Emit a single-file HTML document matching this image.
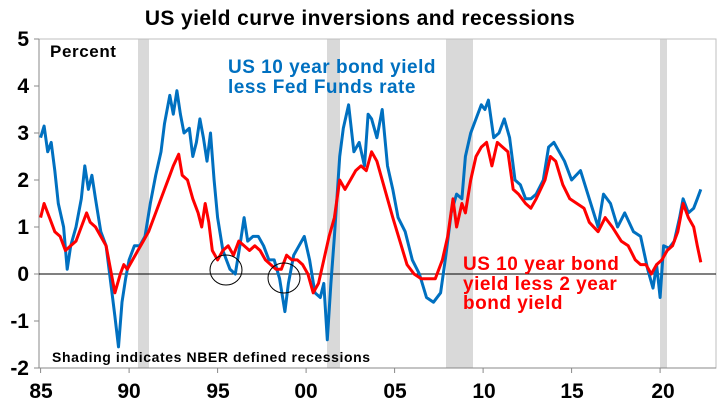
<!DOCTYPE html>
<html><head><meta charset="utf-8"><style>
body{margin:0;background:#fff;}
svg{display:block;font-family:"Liberation Sans",Arial,sans-serif;font-weight:bold;}
</style></head><body>
<svg id="s" width="720" height="404" viewBox="0 0 720 404">
<rect x="0" y="0" width="720" height="404" fill="#fff"/>
<g fill="#d9d9d9">
<rect x="138" y="39" width="11" height="329"/>
<rect x="327" y="39" width="13" height="329"/>
<rect x="446" y="39" width="27" height="329"/>
<rect x="660" y="39" width="7" height="329"/>
</g>
<rect x="39" y="39" width="677" height="329" fill="none" stroke="#bfbfbf" stroke-width="1"/>
<line x1="39" y1="39" x2="39" y2="368" stroke="#888"/>
<line x1="39" y1="274" x2="716" y2="274" stroke="#000" stroke-width="1"/>
<line x1="39" y1="368" x2="716" y2="368" stroke="#888"/>
<g stroke="#888" id="ticks"></g>
<g font-size="21" text-anchor="end" fill="#000">
<text x="29" y="46">5</text><text x="29" y="93">4</text><text x="29" y="140">3</text>
<text x="29" y="187">2</text><text x="29" y="234">1</text><text x="29" y="281">0</text>
<text x="29" y="328">-1</text><text x="29" y="375">-2</text>
</g>
<g font-size="21" text-anchor="middle" fill="#000">
<text x="41" y="398">85</text><text x="129" y="398">90</text><text x="218" y="398">95</text>
<text x="306" y="398">00</text><text x="395" y="398">05</text><text x="484" y="398">10</text>
<text x="572" y="398">15</text><text x="663" y="398">20</text>
</g>
<text x="360" y="25" font-size="21" text-anchor="middle" letter-spacing="0.4">US yield curve inversions and recessions</text>
<text x="50" y="57" font-size="17" letter-spacing="0.6">Percent</text>
<text x="52" y="362" font-size="14" letter-spacing="0.6">Shading indicates NBER defined recessions</text>
<text x="228" y="73" font-size="19" letter-spacing="0.5" fill="#0070c0">US 10 year bond yield</text>
<text x="228" y="93" font-size="19" letter-spacing="0.5" fill="#0070c0">less Fed Funds rate</text>
<text x="463" y="270" font-size="19" letter-spacing="0.5" fill="#ff0000">US 10 year bond</text>
<text x="463" y="290" font-size="19" letter-spacing="0.5" fill="#ff0000">yield less 2 year</text>
<text x="463" y="309" font-size="19" letter-spacing="0.5" fill="#ff0000">bond yield</text>
<polyline id="blue" fill="none" stroke="#0070c0" stroke-width="3" stroke-linejoin="round"/>
<polyline id="red" fill="none" stroke="#ff0000" stroke-width="3" stroke-linejoin="round"/>
<ellipse cx="226" cy="270" rx="16" ry="15" fill="none" stroke="#000" stroke-width="1"/>
<ellipse cx="284" cy="278" rx="16" ry="15" fill="none" stroke="#000" stroke-width="1"/>
</svg>
<script>
var B=[1985,2.9,85.2,3.15,85.4,2.6,85.6,2.8,85.8,2.2,86,1.5,86.3,1,86.5,0.1,86.7,0.6,87,1,87.3,1.6,87.5,2.3,87.7,1.8,87.9,2.1,88.1,1.6,88.4,0.9,88.7,0.6,89,-0.3,89.2,-0.9,89.4,-1.55,89.6,-0.6,89.8,-0.1,90,0.3,90.3,0.6,90.6,0.6,90.9,0.8,91.2,1.5,91.5,2.1,91.8,2.6,92,3.2,92.3,3.8,92.5,3.4,92.7,3.9,92.9,3.4,93.1,3,93.4,3.1,93.6,2.5,93.8,2.8,94,3.3,94.2,2.9,94.4,2.4,94.6,3,94.8,2,95,1.2,95.3,0.5,95.5,0.3,95.7,0.1,96,0,96.3,0.7,96.5,1.2,96.7,0.7,97,0.8,97.3,0.8,97.6,0.6,97.9,0.3,98.2,0.3,98.5,-0.1,98.8,-0.8,99,-0.2,99.3,0.4,99.6,0.6,99.9,0.8,100.2,0.3,100.5,-0.4,100.8,-0.5,101,-0.2,101.2,-1.4,101.4,-0.2,101.6,0.8,101.9,2.5,102.1,3.1,102.4,3.6,102.7,2.6,103,2.8,103.3,2.3,103.5,3.4,103.7,3.3,104,2.9,104.3,3.5,104.6,2.3,104.9,1.8,105.2,1.2,105.6,0.9,106,0.3,106.4,0,106.8,-0.5,107.2,-0.6,107.6,-0.4,107.9,0.4,108.2,1.3,108.5,1.7,108.8,1.6,109,2.5,109.3,3,109.6,3.3,109.9,3.6,110.1,3.5,110.3,3.7,110.6,2.9,110.9,3,111.2,3.3,111.5,2.9,111.8,2,112.1,1.9,112.4,1.6,112.7,1.6,113,1.7,113.4,2,113.7,2.7,114,2.8,114.3,2.6,114.6,2.4,115,2,115.5,2.2,116,1.6,116.5,1,116.8,1.7,117.2,1.5,117.6,1,118,1.3,118.5,0.9,118.9,0.8,119.3,0.1,119.6,-0.3,119.8,0.2,120,-0.5,120.2,0.6,120.5,0.55,120.8,0.7,121.1,1.2,121.3,1.6,121.6,1.3,121.9,1.4,122.1,1.6,122.3,1.8];
var R=[1985,1.2,85.2,1.5,85.5,1.2,85.8,0.9,86.1,0.8,86.4,0.5,86.7,0.6,87,0.7,87.3,1,87.6,1.3,87.8,1.1,88.1,1,88.4,0.8,88.7,0.6,89,0,89.2,-0.4,89.5,0,89.7,0.2,89.9,0.1,90.2,0.3,90.5,0.5,90.8,0.7,91.1,0.9,91.4,1.2,91.7,1.5,92,1.8,92.3,2.1,92.5,2.3,92.8,2.55,93,2.1,93.3,2,93.6,1.6,93.9,1.3,94.1,1,94.3,1.5,94.5,1.1,94.7,0.5,95,0.3,95.3,0.5,95.6,0.6,95.9,0.4,96.2,0.7,96.5,0.6,96.8,0.5,97.1,0.6,97.4,0.5,97.7,0.3,98,0.2,98.3,0.1,98.6,0.1,98.9,0.4,99.2,0.3,99.5,0.3,99.8,0.2,100.1,0,100.4,-0.4,100.7,-0.2,101,0.3,101.3,0.8,101.6,1.2,101.9,2,102.2,1.8,102.5,2,102.8,2.2,103.1,2.3,103.4,2.2,103.7,2.6,104,2.4,104.3,2,104.6,1.6,104.9,1.2,105.3,0.7,105.7,0.2,106.1,0,106.5,-0.1,106.9,-0.1,107.3,-0.1,107.7,0.3,108,0.8,108.3,1.6,108.5,1,108.8,1.5,109,1.3,109.3,2,109.6,2.5,109.9,2.7,110.2,2.8,110.5,2.3,110.8,2.8,111.1,2.7,111.4,2.6,111.7,1.8,112,1.7,112.4,1.5,112.7,1.4,113,1.6,113.5,2,113.8,2.5,114.1,2.4,114.5,1.9,114.9,1.6,115.3,1.5,115.7,1.4,116,1.1,116.5,0.9,116.9,1.2,117.3,1,117.8,0.7,118.2,0.6,118.6,0.3,118.9,0.2,119.2,0.2,119.5,0,119.8,0.2,120.1,0.3,120.4,0.5,120.7,0.6,121,0.9,121.3,1.5,121.6,1.2,121.9,1,122.1,0.6,122.3,0.25];
function pts(a){var s=[];for(var i=0;i<a.length;i+=2){var y=a[i];if(y<1900)y+=1900;if(y<1985)y+=100;var x=40.6+(y-1985)*17.7;s.push(x.toFixed(1)+","+(274-a[i+1]*47).toFixed(1));}return s.join(" ");}
document.getElementById("blue").setAttribute("points",pts(B));
document.getElementById("red").setAttribute("points",pts(R));
var t="";for(var k=0;k<8;k++){var x=40.6+k*88.5;t+='<line x1="'+x+'" y1="368" x2="'+x+'" y2="373"/>';}
for(var v=-2;v<=5;v++){t+='<line x1="34" y1="'+(274-v*47)+'" x2="39" y2="'+(274-v*47)+'"/>';}
document.getElementById("ticks").innerHTML=t;
</script>
</body></html>
